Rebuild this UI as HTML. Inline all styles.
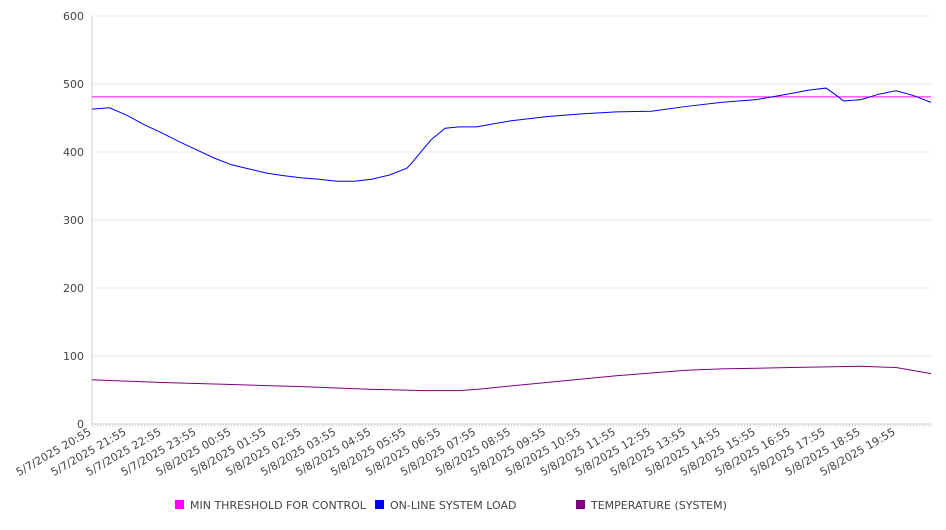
<!DOCTYPE html>
<html><head><meta charset="utf-8"><style>
body{margin:0;background:#fff;font-family:"DejaVu Sans","Liberation Sans",sans-serif}
svg text{font-family:"DejaVu Sans","Liberation Sans",sans-serif;fill:#444;font-size:11px}
</style></head><body>
<svg id="chart" width="946" height="526" xmlns="http://www.w3.org/2000/svg"></svg>
<script>
const hours=[0,0.5,1,1.5,2,2.5,3,3.5,4,4.5,5,5.5,6,6.5,7,7.5,8,8.5,9,9.1,9.7,10.1,10.5,11,12,13,14,15,16,17,18,19,20,20.5,21,21.3,21.5,22,22.5,23,23.5,24];
const loadVals=[463,465,454,440,428,415,403,391,381,375,369,365,362,360,357,357,360,366,376,381,418,435,437,437,446,452,456,459,460,467,473,477,486,491,494,483,475,477,485,490,483,473];
const tempHours=[0,2,4,6,8,9.5,10.5,11,12,13,14,15,16,17,18,19,20,21,22,23,24];
const tempVals=[65,61,58,55,51,49,49,51,56,61,66,71,75,79,81,82,83,84,85,83,74];
const threshold=481;
const yTicks=[0,100,200,300,400,500,600];
const xLabels=["5/7/2025 20:55","5/7/2025 21:55","5/7/2025 22:55","5/7/2025 23:55","5/8/2025 00:55","5/8/2025 01:55","5/8/2025 02:55","5/8/2025 03:55","5/8/2025 04:55","5/8/2025 05:55","5/8/2025 06:55","5/8/2025 07:55","5/8/2025 08:55","5/8/2025 09:55","5/8/2025 10:55","5/8/2025 11:55","5/8/2025 12:55","5/8/2025 13:55","5/8/2025 14:55","5/8/2025 15:55","5/8/2025 16:55","5/8/2025 17:55","5/8/2025 18:55","5/8/2025 19:55"];
const legendNames=["MIN THRESHOLD FOR CONTROL","ON-LINE SYSTEM LOAD","TEMPERATURE (SYSTEM)"];
const legendColors=["#ff00ff","#0000ee","#800080"];

const NS="http://www.w3.org/2000/svg";
const svg=document.getElementById('chart');
const L=92,R=931,T=16,B=424;
const x=h=>L+(R-L)*h/24;
const y=v=>B-(B-T)*v/600;
function mk(tag,attrs,parent){const e=document.createElementNS(NS,tag);for(const k in attrs)e.setAttribute(k,attrs[k]);(parent||svg).appendChild(e);return e;}

yTicks.forEach(v=>{
  const g=mk('line',{x1:L,x2:R,y1:y(v),y2:y(v),stroke:v===0?'#ccc':'#e8e8e8','stroke-width':1});
  
  
  const t=mk('text',{x:L-8,y:y(v)+4,'text-anchor':'end'});
  t.textContent=v;
  
  
});
const ax=mk('line',{x1:L,x2:L,y1:T,y2:B,stroke:'#ccc'});


for(let i=0;i<=24*12;i++){
  const tk=mk('line',{x1:x(i/12),x2:x(i/12),y1:B,y2:B+3,stroke:'#ccc','stroke-width':0.6});
  
  
}
xLabels.forEach((s,i)=>{
  const px=x(i),py=B+10;
  const t=mk('text',{x:px,y:py,'text-anchor':'end',transform:`rotate(-30 ${px} ${py})`});
  t.textContent=s;
  
  
});
const th=mk('line',{x1:L,x2:R,y1:y(threshold),y2:y(threshold),stroke:legendColors[0],'stroke-width':1});


const lp=mk('polyline',{points:hours.map((h,i)=>x(h)+','+y(loadVals[i])).join(' '),fill:'none',stroke:legendColors[1],'stroke-width':1});


const tp=mk('polyline',{points:tempHours.map((h,i)=>x(h)+','+y(tempVals[i])).join(' '),fill:'none',stroke:legendColors[2],'stroke-width':1});


const lx=[175,375,576];
legendNames.forEach((n,i)=>{
  const r=mk('rect',{x:lx[i],y:500,width:9,height:9,fill:legendColors[i]});
  
  
  const t=mk('text',{x:lx[i]+15,y:509});
  t.textContent=n;
  
  
});
</script>
</body></html>
